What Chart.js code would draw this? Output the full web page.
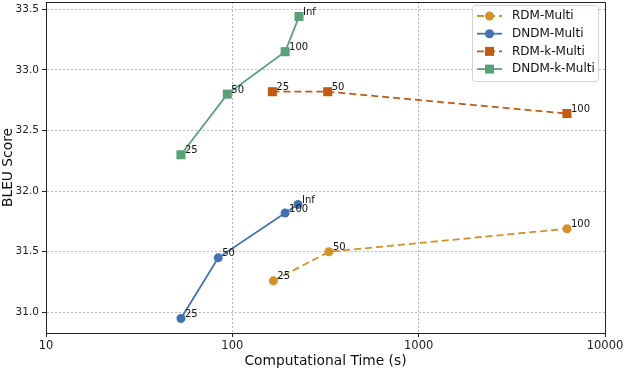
<!DOCTYPE html>
<html>
<head>
<meta charset="utf-8">
<script src="https://cdn.jsdelivr.net/npm/chart.js@4.4.0/dist/chart.umd.min.js"></script>
<style>
  html, body { margin: 0; padding: 0; background: #fff; }
</style>
</head>
<body>
<canvas id="myChart" width="624" height="370"></canvas>
<script>
// data
const seriesNames = ['RDM-Multi', 'DNDM-Multi', 'RDM-k-Multi', 'DNDM-k-Multi'];
const rdmTime = [166, 330, 6250];
const rdmBleu = [31.26, 31.50, 31.69];
const dndmTime = [53, 84, 192, 225];
const dndmBleu = [30.95, 31.45, 31.82, 31.89];
const rdmKTime = [164, 325, 6250];
const rdmKBleu = [32.82, 32.82, 32.64];
const dndmKTime = [53, 94, 192, 228];
const dndmKBleu = [32.30, 32.80, 33.15, 33.44];
const rdmSteps = ['25', '50', '100'];
const dndmSteps = ['25', '50', '100', 'Inf'];
const xTicks = [10, 100, 1000, 10000];
const yTicks = [31.0, 31.5, 32.0, 32.5, 33.0, 33.5];

const colors = ['#D4912A', '#4272B2', '#C25A14', '#59A077'];
const FONT = '"DejaVu Sans", sans-serif';

function pts(xs, ys) {
  return xs.map((x, i) => ({ x: x, y: ys[i] }));
}

const datasets = [
  { label: seriesNames[0], data: pts(rdmTime, rdmBleu), steps: rdmSteps, borderDash: [7, 4], pointStyle: 'circle', pointRadius: 4.5 },
  { label: seriesNames[1], data: pts(dndmTime, dndmBleu), steps: dndmSteps, borderDash: [], pointStyle: 'circle', pointRadius: 4.5 },
  { label: seriesNames[2], data: pts(rdmKTime, rdmKBleu), steps: rdmSteps, borderDash: [7, 4], pointStyle: 'rect', pointRadius: 6.4 },
  { label: seriesNames[3], data: pts(dndmKTime, dndmKBleu), steps: dndmSteps, borderDash: [], pointStyle: 'rect', pointRadius: 6.4 }
].map((d, i) => Object.assign(d, {
  borderColor: colors[i],
  backgroundColor: colors[i],
  pointBackgroundColor: colors[i],
  pointBorderColor: colors[i],
  pointBorderWidth: 0,
  borderWidth: 1.8,
  showLine: true,
  fill: false
}));

// point labels, frame and the legend box inside the plot
const extras = {
  id: 'extras',
  afterDatasetsDraw(chart) {
    const c = chart.ctx;
    c.save();
    c.font = '10px ' + FONT;
    c.fillStyle = '#111';
    c.textAlign = 'left';
    c.textBaseline = 'middle';
    chart.data.datasets.forEach((ds, i) => {
      chart.getDatasetMeta(i).data.forEach((p, j) => {
        c.fillText(ds.steps[j], p.x + 4, p.y - 4);
      });
    });
    c.restore();
  },
  afterDraw(chart) {
    const c = chart.ctx;
    const a = chart.chartArea;
    c.save();
    c.strokeStyle = '#222';
    c.lineWidth = 1;
    c.beginPath();
    c.moveTo(a.left, a.top + 0.5);
    c.lineTo(a.right + 0.5, a.top + 0.5);
    c.lineTo(a.right + 0.5, a.bottom);
    c.stroke();

    // legend
    const bx = 472, by = 5, bw = 126, bh = 76;
    c.fillStyle = 'rgba(255,255,255,0.85)';
    c.strokeStyle = '#d4d4d4';
    c.beginPath();
    c.roundRect(bx + 0.5, by + 0.5, bw, bh, 3);
    c.fill();
    c.stroke();
    c.font = '12px ' + FONT;
    c.textAlign = 'left';
    c.textBaseline = 'middle';
    chart.data.datasets.forEach((ds, i) => {
      const y = 16 + i * 17.7;
      c.strokeStyle = ds.borderColor;
      c.fillStyle = ds.borderColor;
      c.lineWidth = 1.8;
      c.setLineDash(ds.borderDash);
      c.beginPath();
      c.moveTo(477, y);
      c.lineTo(502, y);
      c.stroke();
      c.setLineDash([]);
      if (ds.pointStyle === 'circle') {
        c.beginPath();
        c.arc(489.5, y, 4.5, 0, Math.PI * 2);
        c.fill();
      } else {
        c.fillRect(485, y - 4.5, 9, 9);
      }
      c.fillStyle = '#111';
      c.fillText(ds.label, 512, y);
    });
    c.restore();
  }
};

const ctx = document.getElementById('myChart');

new Chart(ctx, {
  type: 'scatter',
  data: { datasets: datasets },
  options: {
    responsive: false,
    animation: false,
    layout: { autoPadding: false, padding: { top: 2, right: 19, left: 0, bottom: 0 } },
    plugins: {
      legend: { display: false },
      tooltip: { enabled: false }
    },
    scales: {
      x: {
        type: 'logarithmic',
        min: 10,
        max: 10000,
        afterBuildTicks: s => { s.ticks = xTicks.map(v => ({ value: v })); },
        afterFit: s => { s.height = 37; s.paddingLeft = 0; s.paddingRight = 0; },
        ticks: {
          callback: v => String(v),
          font: { family: FONT, size: 11.5 },
          color: '#222',
          padding: 2,
          maxRotation: 0,
          autoSkip: false
        },
        grid: {
          color: 'rgba(0,0,0,0.28)',
          tickColor: '#222',
          tickBorderDash: [],
          tickLength: 4,
          lineWidth: 1
        },
        border: { display: true, color: '#222', width: 1, dash: [2, 2] },
        title: {
          display: true,
          text: 'Computational Time (s)',
          font: { family: FONT, size: 13.8 },
          color: '#111',
          padding: 0
        }
      },
      y: {
        min: 30.83,
        max: 33.56,
        afterBuildTicks: s => { s.ticks = yTicks.map(v => ({ value: v })); },
        afterFit: s => { s.width = 46; s.paddingTop = 0; s.paddingBottom = 0; },
        ticks: {
          callback: v => Number(v).toFixed(1),
          font: { family: FONT, size: 10.5 },
          color: '#222',
          padding: 3,
          autoSkip: false
        },
        grid: {
          color: 'rgba(0,0,0,0.28)',
          tickColor: '#222',
          tickBorderDash: [],
          tickLength: 4,
          lineWidth: 1
        },
        border: { display: true, color: '#222', width: 1, dash: [2, 2] },
        title: {
          display: true,
          text: 'BLEU Score',
          font: { family: FONT, size: 13.8 },
          color: '#111',
          padding: 0
        }
      }
    }
  },
  plugins: [extras]
});
</script>
</body>
</html>
